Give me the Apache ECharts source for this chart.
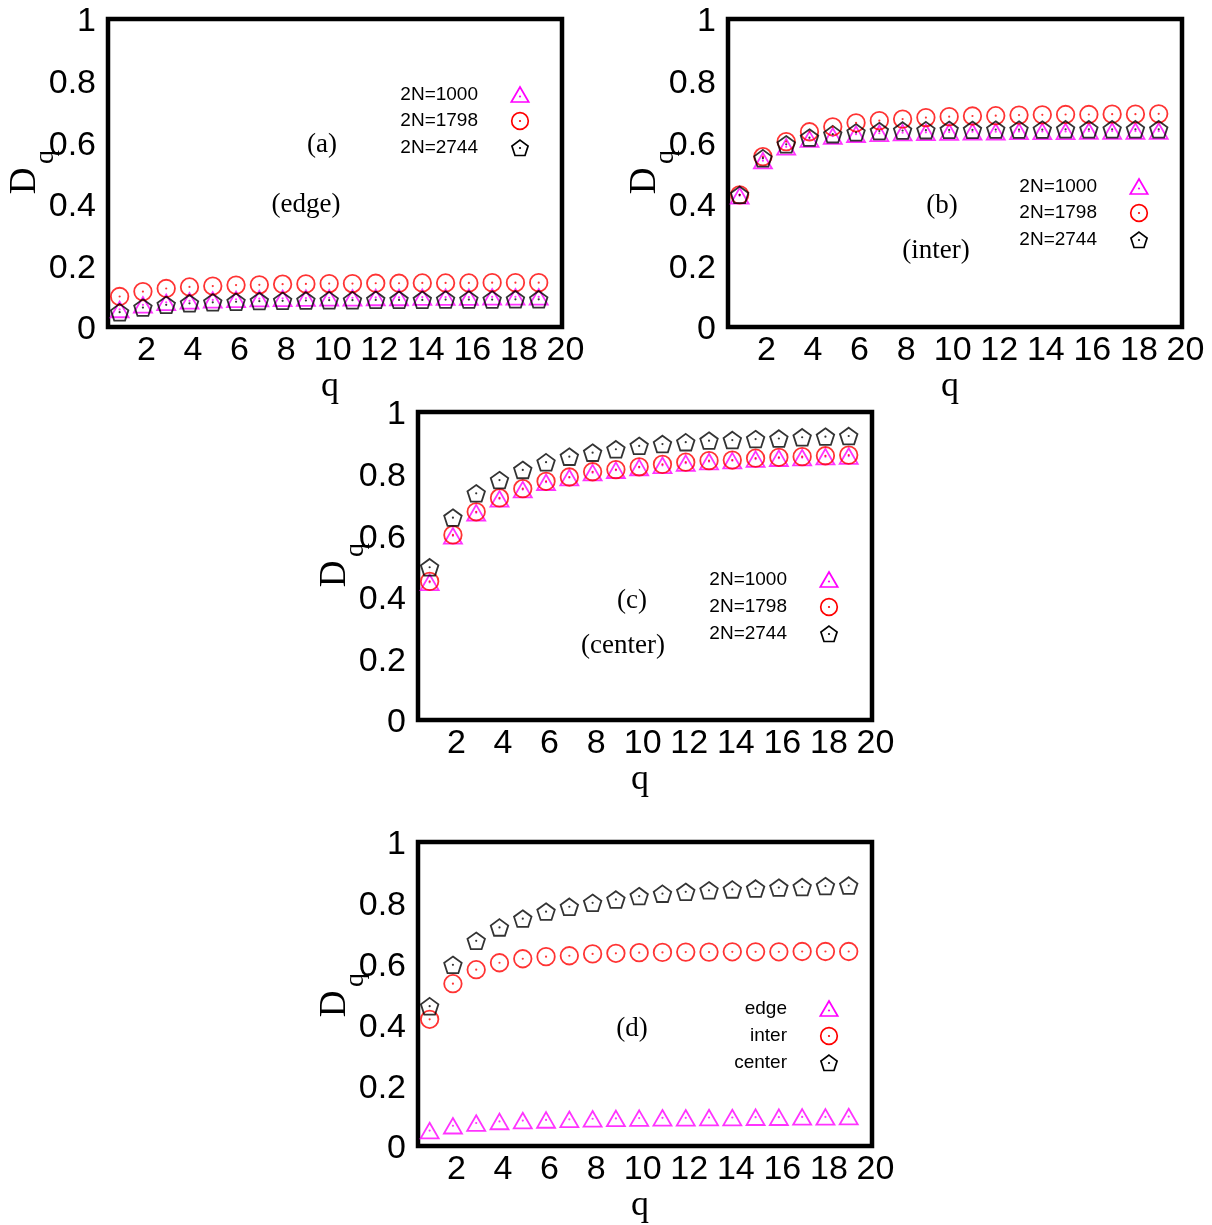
<!DOCTYPE html>
<html>
<head>
<meta charset="utf-8">
<script src="https://cdn.jsdelivr.net/npm/echarts@6/dist/echarts.min.js"></script>
<style>
html,body{margin:0;padding:0;background:#fff;}
#chart{width:1212px;height:1225px;}
</style>
</head>
<body>
<div id="chart"></div>
<script>
// ---------------- data ----------------
const qValues = [1,2,3,4,5,6,7,8,9,10,11,12,13,14,15,16,17,18,19];
const xTickLabels = [2,4,6,8,10,12,14,16,18,20];

// (a) edge
const edge1000 = [0.057,0.072,0.080,0.085,0.088,0.090,0.092,0.093,0.094,0.095,0.095,0.096,0.096,0.097,0.097,0.097,0.098,0.098,0.098];
const edge1798 = [0.099,0.115,0.125,0.130,0.133,0.136,0.137,0.139,0.140,0.141,0.141,0.142,0.142,0.143,0.143,0.143,0.144,0.144,0.144];
const edge2744 = [0.048,0.063,0.072,0.077,0.080,0.082,0.084,0.085,0.086,0.087,0.087,0.088,0.088,0.088,0.089,0.089,0.089,0.090,0.090];
// (b) inter
const inter1000 = [0.426,0.540,0.585,0.610,0.620,0.626,0.629,0.631,0.632,0.633,0.634,0.634,0.635,0.635,0.635,0.636,0.636,0.636,0.636];
const inter1798 = [0.429,0.553,0.602,0.634,0.650,0.663,0.670,0.675,0.680,0.683,0.685,0.686,0.688,0.689,0.690,0.690,0.691,0.691,0.692];
const inter2744 = [0.429,0.548,0.593,0.615,0.626,0.632,0.636,0.638,0.639,0.640,0.640,0.641,0.641,0.641,0.642,0.642,0.642,0.642,0.642];
// (c) center
const center1000 = [0.447,0.598,0.673,0.718,0.748,0.772,0.787,0.803,0.811,0.820,0.827,0.834,0.839,0.842,0.847,0.850,0.852,0.855,0.857];
const center1798 = [0.450,0.601,0.676,0.721,0.751,0.775,0.789,0.806,0.813,0.822,0.830,0.837,0.842,0.844,0.850,0.853,0.855,0.858,0.860];
const center2744 = [0.496,0.657,0.736,0.779,0.812,0.837,0.855,0.868,0.879,0.890,0.896,0.902,0.907,0.909,0.912,0.914,0.918,0.920,0.922];
// (d) comparison
const cmpEdge   = [0.051,0.067,0.076,0.081,0.084,0.086,0.088,0.090,0.091,0.092,0.093,0.093,0.094,0.094,0.095,0.095,0.096,0.096,0.097];
const cmpInter  = [0.417,0.534,0.580,0.603,0.616,0.623,0.626,0.632,0.634,0.636,0.637,0.638,0.638,0.639,0.639,0.639,0.640,0.640,0.640];
const cmpCenter = [0.460,0.596,0.675,0.719,0.748,0.771,0.787,0.800,0.811,0.822,0.830,0.836,0.841,0.844,0.847,0.850,0.852,0.855,0.857];

const sizeLabels = ['2N=1000','2N=1798','2N=2744'];
const regionLabels = ['edge','inter','center'];

// ---------------- styling ----------------
const MAG = '#ff00ff', RED = '#ff0000', BLK = '#000000';
const SANS = '"Liberation Sans", Arial, Helvetica, sans-serif';
const SERIF = '"Liberation Serif", "Times New Roman", serif';
const TRI = 'path://M50,0 L100,86.6 L0,86.6 Z';
const PENT = 'path://M50,0 L97.55,34.55 L79.39,90.45 L20.61,90.45 L2.45,34.55 Z';

const panels = [
  {left:108, top:19,  width:454, height:308, series:[edge1000,edge1798,edge2744], names:sizeLabels,
   tag:'(a)', tagPos:[322,145], sub:'(edge)', subPos:[306,205], legX:478, legY:[95,121,148]},
  {left:728, top:19,  width:454, height:308, series:[inter1000,inter1798,inter2744], names:sizeLabels,
   tag:'(b)', tagPos:[942,206], sub:'(inter)', subPos:[936,251], legX:1097, legY:[187,213,240]},
  {left:418, top:412, width:454, height:308, series:[center1000,center1798,center2744], names:sizeLabels,
   tag:'(c)', tagPos:[632,601], sub:'(center)', subPos:[623,646], legX:787, legY:[580,607,634]},
  {left:418, top:842, width:454, height:307, series:[cmpEdge,cmpInter,cmpCenter], names:regionLabels,
   tag:'(d)', tagPos:[632,1029], sub:null, subPos:null, legX:787, legY:[1009,1036,1063]}
];

const markerDefs = [
  {symbol: TRI, size: 18, color: MAG},
  {symbol: 'circle', size: 17.5, color: RED},
  {symbol: PENT, size: 17.5, color: BLK}
];

const grids = [], xAxes = [], yAxes = [], series = [], graphics = [];

panels.forEach((p, gi) => {
  grids.push({left:p.left, top:p.top, width:p.width, height:p.height, show:true,
    borderColor:'#000', borderWidth:4.5, backgroundColor:'rgba(0,0,0,0)'});
  xAxes.push({type:'value', gridIndex:gi, min:0.5, max:20,
    name:'q', nameLocation:'middle', nameGap:41,
    nameTextStyle:{fontFamily:SERIF, fontSize:36, color:'#000', padding:[0,10,0,0]},
    axisLine:{show:false}, axisTick:{show:false}, splitLine:{show:false},
    axisLabel:{customValues:xTickLabels, fontFamily:SANS, fontSize:34, color:'#000', margin:7, padding:[0,0,0,7]}});
  yAxes.push({type:'value', gridIndex:gi, min:0, max:1, interval:0.2,
    axisLine:{show:false}, axisTick:{show:false}, splitLine:{show:false},
    axisLabel:{fontFamily:SANS, fontSize:34, color:'#000', margin:12,
      formatter: v => '{t|' + v + '}',
      rich:{t:{fontFamily:SANS, fontSize:34, color:'#000', padding:[6,0,0,0]}}}});

  p.series.forEach((vals, si) => {
    const m = markerDefs[si];
    const data = qValues.map((x, i) => [x, vals[i]]);
    series.push({type:'scatter', name:p.names[si], xAxisIndex:gi, yAxisIndex:gi, data:data,
      symbol:m.symbol, symbolSize:m.size, symbolKeepAspect:true, silent:true,
      itemStyle:{color:'rgba(0,0,0,0)', borderColor:m.color, borderWidth:1.8},
      emphasis:{disabled:true}, z:3});
    series.push({type:'scatter', name:p.names[si]+' centre', xAxisIndex:gi, yAxisIndex:gi, data:data,
      symbol:'circle', symbolSize:2.2, silent:true, itemStyle:{color:m.color}, emphasis:{disabled:true}, z:4});
  });

  // y title D_q
  const dx = p.left - 108, dy = p.top - 19;
  graphics.push({type:'text', x:25+dx, y:181+dy, rotation:Math.PI/2,
    style:{text:'D', font:'37px '+SERIF, fill:'#000', textAlign:'center', textVerticalAlign:'middle'}});
  graphics.push({type:'text', x:46+dx, y:157+dy, rotation:Math.PI/2,
    style:{text:'q', font:'28px '+SERIF, fill:'#000', textAlign:'center', textVerticalAlign:'middle'}});

  // panel annotations
  graphics.push({type:'text', x:p.tagPos[0], y:p.tagPos[1],
    style:{text:p.tag, font:'27px '+SERIF, fill:'#000', textAlign:'center', textVerticalAlign:'middle'}});
  if (p.sub) graphics.push({type:'text', x:p.subPos[0], y:p.subPos[1],
    style:{text:p.sub, font:'27px '+SERIF, fill:'#000', textAlign:'center', textVerticalAlign:'middle'}});

  // key
  p.names.forEach((nm, si) => {
    const y = p.legY[si], sx = p.legX + 42;
    graphics.push({type:'text', x:p.legX, y:y,
      style:{text:nm, font:'19px '+SANS, fill:'#000', textAlign:'right', textVerticalAlign:'middle'}});
    const m = markerDefs[si];
    if (si === 0) {
      graphics.push({type:'polygon', shape:{points:[[sx,y-8],[sx+8.7,y+7],[sx-8.7,y+7]]},
        style:{fill:null, stroke:m.color, lineWidth:1.7}});
    } else if (si === 1) {
      graphics.push({type:'circle', shape:{cx:sx, cy:y, r:8.3}, style:{fill:null, stroke:m.color, lineWidth:1.7}});
    } else {
      const r = 8.5, pts = [];
      for (let k = 0; k < 5; k++) {
        const a = -Math.PI/2 + k*2*Math.PI/5;
        pts.push([sx + r*Math.cos(a), y + 0.6 + r*Math.sin(a)]);
      }
      graphics.push({type:'polygon', shape:{points:pts}, style:{fill:null, stroke:m.color, lineWidth:1.7}});
    }
    graphics.push({type:'circle', shape:{cx:sx, cy:y+(si===0?1.5:0), r:1.1}, style:{fill:m.color}});
  });
});

const chart = echarts.init(document.getElementById('chart'), null, {renderer:'canvas'});
chart.setOption({
  backgroundColor:'#fff',
  animation:false,
  grid:grids, xAxis:xAxes, yAxis:yAxes, series:series, graphic:graphics
});
</script>
</body>
</html>
